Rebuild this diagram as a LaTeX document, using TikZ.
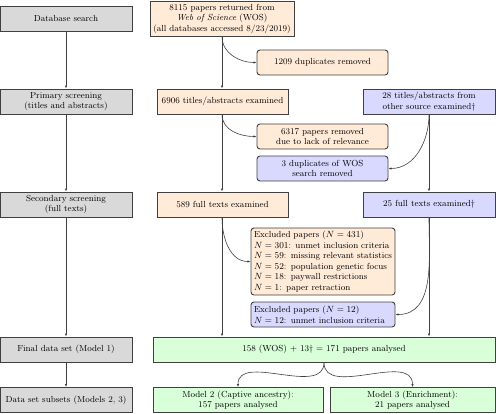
\documentclass[tikz,border=0pt]{standalone}
\usetikzlibrary{arrows.meta}
\definecolor{grayfill}{HTML}{D9D9D9}
\definecolor{orfill}{HTML}{FFEBD7}
\definecolor{blfill}{HTML}{D9D9FF}
\definecolor{grfill}{HTML}{D9FFD9}
\definecolor{edge}{HTML}{404040}
\tikzset{
  box/.style={draw=edge, line width=0.9pt, align=center, inner sep=2pt,
    font=\fontsize{8.8}{10.5}\selectfont},
  graybox/.style={box, fill=grayfill, minimum width=132pt, minimum height=25pt},
  orbox/.style={box, fill=orfill, minimum width=131pt, minimum height=25pt},
  blbox/.style={box, fill=blfill, minimum width=132pt, minimum height=25pt},
  grbox/.style={box, fill=grfill, minimum height=25pt},
  side/.style={rounded corners=3pt},
  conn/.style={draw=edge, line width=0.6pt, -{Latex[length=3pt,width=2.4pt]}},
  plainconn/.style={draw=edge, line width=0.6pt}
}
\begin{document}
\begin{tikzpicture}[x=1pt,y=-1pt]
\useasboundingbox (0,0) rectangle (500,413);
% left column
\node[graybox] (db) at (66,18.5) {Database search};
\node[graybox] (prim) at (66,101.5) {Primary screening\\(titles and abstracts)};
\node[graybox] (sec) at (66,204.5) {Secondary screening\\(full texts)};
\node[graybox] (fin) at (66,349.5) {Final data set (Model 1)};
\node[graybox] (sub) at (66,400) {Data set subsets (Models 2, 3)};
% WOS column
\node[orbox, minimum width=144pt, minimum height=35pt] (wos) at (222,18.5) {8115 papers returned from\\\emph{Web of Science} (WOS)\\(all databases accessed 8/23/2019)};
\node[orbox, side] (dup) at (322.5,62.5) {1209 duplicates removed};
\node[orbox] (s6906) at (222.5,101.5) {6906 titles/abstracts examined};
\node[orbox, side] (rem) at (322.5,136.5) {6317 papers removed\\due to lack of relevance};
\node[blbox, side, minimum width=131pt] (dup3) at (322.5,168.5) {3 duplicates of WOS\\search removed};
\node[orbox] (f589) at (222.5,204.5) {589 full texts examined};
\node[orbox, side, text width=138pt, minimum height=67pt, align=left, inner xsep=3pt] (ex431) at (323,261.5) {Excluded papers ($N=431$)\\$N=301$: unmet inclusion criteria\\$N=59$: missing relevant statistics\\$N=52$: population genetic focus\\$N=18$: paywall restrictions\\$N=1$: paper retraction};
\node[blbox, side, text width=138pt, align=left, inner xsep=3pt] (ex12) at (323,314.5) {Excluded papers ($N=12$)\\$N=12$: unmet inclusion criteria};
% other source column
\node[blbox] (oth) at (429,101.5) {28 titles/abstracts from\\other source examined\dag};
\node[blbox] (f25) at (429,204.5) {25 full texts examined\dag};
% results
\node[grbox, minimum width=342pt] (final) at (324,349.5) {158 (WOS) + 13\dag{} = 171 papers analysed};
\node[grbox, minimum width=170pt] (m2) at (238,400) {Model 2 (Captive ancestry):\\157 papers analysed};
\node[grbox, minimum width=165pt] (m3) at (412.5,400) {Model 3 (Enrichment):\\21 papers analysed};
% left arrows
\draw[conn] (db) -- (prim);
\draw[conn] (prim) -- (sec);
\draw[conn] (sec) -- (fin);
\draw[conn] (fin) -- (sub);
% WOS column arrows
\draw[conn] (wos.south) -- (wos.south |- s6906.north);
\draw[conn] (wos.south) to[out=-90,in=180] (dup.west);
\draw[conn] (wos.south |- s6906.south) -- (wos.south |- f589.north);
\draw[conn] (wos.south |- s6906.south) to[out=-90,in=180] (rem.west);
\draw[conn] (wos.south |- f589.south) -- (wos.south |- final.north);
\draw[conn] (wos.south |- f589.south) to[out=-90,in=180] (ex431.west);
% other column arrows
\draw[conn] (oth.south) -- (f25.north);
\draw[conn] (oth.south) to[out=-90,in=0] (dup3.east);
\draw[conn] (f25.south) -- (f25.south |- final.north);
\draw[conn] (f25.south) to[out=-90,in=0] (ex12.east);
% split
\draw[conn] (final.south) to[out=-90,in=90] (m2.north);
\draw[conn] (final.south) to[out=-90,in=90] (m3.north);
\end{tikzpicture}
\end{document}
